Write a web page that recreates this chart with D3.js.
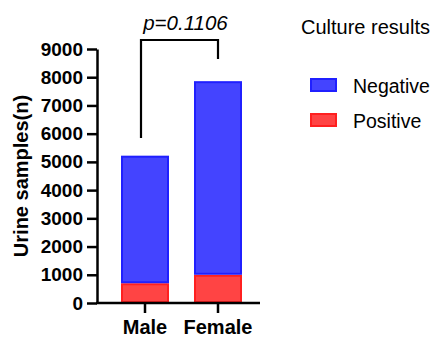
<!DOCTYPE html>
<html lang="en">
  <head>
    <meta charset="UTF-8"/>
    <title>Urine samples</title>
    <script src="https://d3js.org/d3.v7.min.js"></script>
    <style>
      body { margin: 0; background: #fff; }
      text { font-family: 'Liberation Sans', Arial, sans-serif; }
      .axis path, .axis line { stroke: #000; stroke-width: 2.5px; }
    </style>
  </head>
  <body>
    <script type="text/javascript">

      const groups = ["Male", "Female"]
      const series = ["Negative", "Positive"]
      const positive = [700, 1000]
      const negative = [4520, 6860]
      const yTicks = [0, 1000, 2000, 3000, 4000, 5000, 6000, 7000, 8000, 9000]
      const pLabel = "p=0.1106"

      const colors = { Negative: { fill: "#4444ff", stroke: "#2020ff" },
                       Positive: { fill: "#ff4444", stroke: "#ff2020" } }

      const width = 434, height = 337
      const svg = d3.select("body").append("svg")
          .attr("width", width)
          .attr("height", height)

      const y = d3.scaleLinear().domain([0, 9000]).range([303, 49])
      const x = d3.scaleBand().domain(groups).range([96, 267]).padding(0.3425)

      const stackData = groups.map((g, i) => ({ group: g, Positive: positive[i], Negative: negative[i] }))
      const stacked = d3.stack().keys(["Positive", "Negative"])(stackData)

      svg.append("g").selectAll("g")
        .data(stacked)
        .join("g")
        .each(function(layer) {
          d3.select(this).selectAll("rect")
            .data(layer)
            .join("rect")
            .attr("x", d => x(d.data.group) + 1)
            .attr("width", x.bandwidth() - 2)
            .attr("y", d => y(d[1]) + 1)
            .attr("height", d => y(d[0]) - y(d[1]) - 2)
            .attr("fill", colors[layer.key].fill)
            .attr("stroke", colors[layer.key].stroke)
            .attr("stroke-width", 2)
        })

      // axes
      const yAxisG = svg.append("g")
          .attr("class", "axis")
          .attr("transform", "translate(97,0)")
          .call(d3.axisLeft(y).tickValues(yTicks).tickFormat(d3.format("d"))
                  .tickSize(10).tickPadding(4).tickSizeOuter(0))
      yAxisG.selectAll("text")
          .attr("font-family", null)
          .style("font-size", "19px")
          .style("font-weight", "bold")
          .attr("fill", "#000")

      const xAxisG = svg.append("g")
          .attr("class", "axis")
          .attr("transform", "translate(0,303)")
          .call(d3.axisBottom(x).tickSize(10).tickSizeOuter(0))
      xAxisG.select(".domain").attr("d", "M96,0H260")
      xAxisG.selectAll("text")
          .attr("y", 31)
          .attr("dy", null)
          .style("font-size", "20px")
          .style("font-weight", "bold")
          .attr("fill", "#000")

      svg.append("text")
          .attr("transform", "translate(28,176) rotate(-90)")
          .attr("text-anchor", "middle")
          .style("font-size", "20px")
          .style("font-weight", "bold")
          .text("Urine samples(n)")

      // significance bracket
      const bx1 = x("Male") + x.bandwidth() / 2 - 4
      const bx2 = x("Female") + x.bandwidth() / 2
      svg.append("path")
          .attr("d", `M${bx1},${y(5850)}V40H${bx2}V${y(8650)}`)
          .attr("fill", "none")
          .attr("stroke", "#000")
          .attr("stroke-width", 2.2)
      svg.append("text")
          .attr("x", (bx1 + bx2) / 2 + 6)
          .attr("y", 30)
          .attr("text-anchor", "middle")
          .style("font-size", "20.5px")
          .style("font-style", "italic")
          .text(pLabel)

      // legend
      svg.append("text")
          .attr("x", 301)
          .attr("y", 34)
          .style("font-size", "20px")
          .text("Culture results")

      const legend = svg.append("g").selectAll("g")
        .data(series)
        .join("g")
        .attr("transform", (d, i) => `translate(311,${79 + i * 35})`)
      legend.append("rect")
          .attr("width", 25).attr("height", 12)
          .attr("fill", d => colors[d].fill)
          .attr("stroke", d => colors[d].stroke)
          .attr("stroke-width", 2)
      legend.append("text")
          .attr("x", 42).attr("y", 14)
          .style("font-size", "19.5px")
          .text(d => d)

    </script>
  </body>
</html>
